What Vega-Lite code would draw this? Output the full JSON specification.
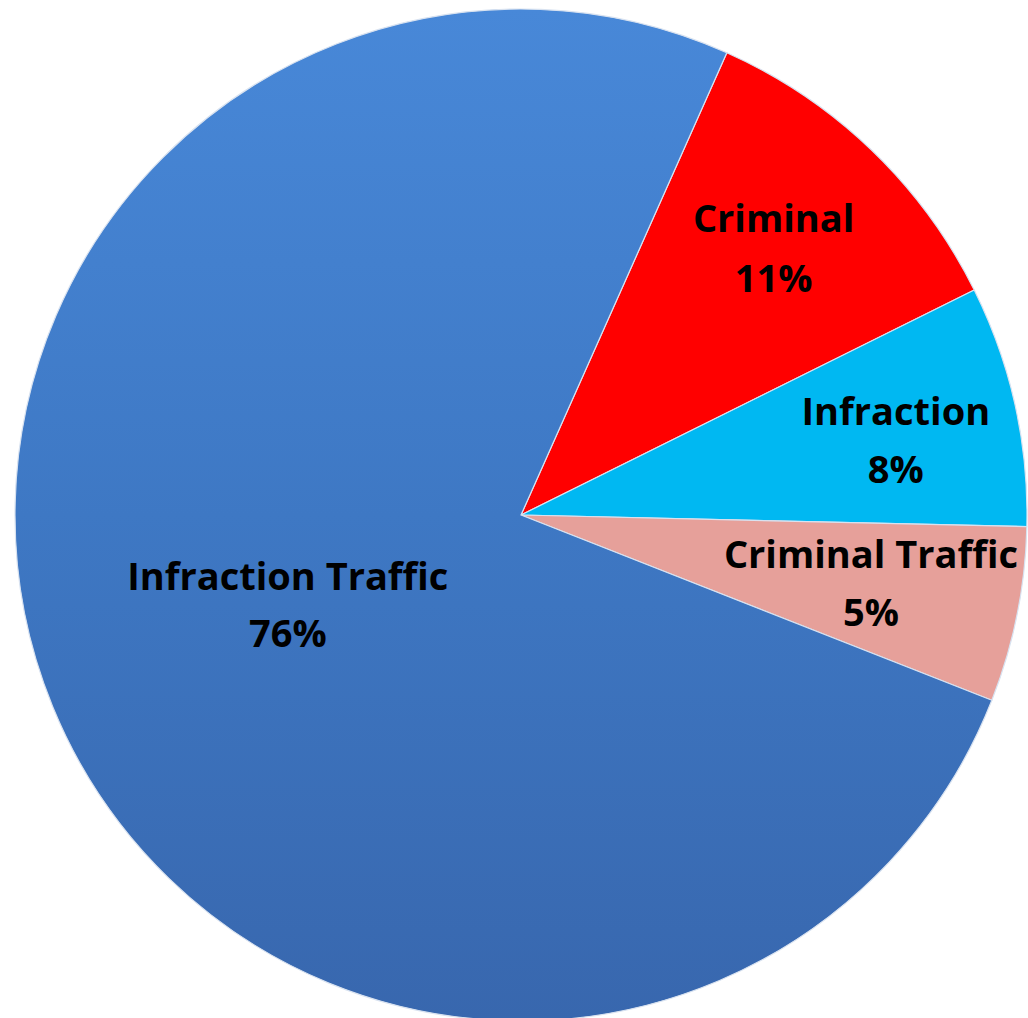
{
  "$schema": "https://vega.github.io/schema/vega-lite/v6.json",
  "width": 1042,
  "height": 1030,
  "padding": 0,
  "autosize": "none",
  "background": "white",
  "config": {"view": {"stroke": null}},
  "data": {"values": [
    {"cat": "Criminal", "value": 11.0, "ord": 1, "label": "Criminal\n11%"},
    {"cat": "Infraction", "value": 7.7, "ord": 2, "label": "Infraction\n8%"},
    {"cat": "Criminal Traffic", "value": 5.6, "ord": 3, "label": "Criminal Traffic\n5%"},
    {"cat": "Infraction Traffic", "value": 75.7, "ord": 4, "label": "Infraction Traffic\n76%"}
  ]},
  "encoding": {
    "theta": {"field": "value", "type": "quantitative", "stack": true, "scale": {"range": [0.4189, 6.7021]}},
    "order": {"field": "ord", "type": "quantitative", "sort": "ascending"}
  },
  "layer": [
    {
      "mark": {"type": "arc", "outerRadius": 506, "stroke": "#d8e2f0", "strokeWidth": 1.2},
      "encoding": {
        "color": {
          "condition": {"test": "datum.cat === 'Infraction Traffic'",
            "value": {"gradient": "linear", "x1": 0, "y1": 0, "x2": 0, "y2": 1,
              "stops": [{"offset": 0, "color": "#4888d8"}, {"offset": 0.5, "color": "#3e78c4"}, {"offset": 1, "color": "#3867ae"}]}},
          "field": "cat", "type": "nominal", "legend": null,
          "scale": {"domain": ["Criminal", "Infraction", "Criminal Traffic", "Infraction Traffic"],
                    "range": ["#ff0000", "#00b8f2", "#e6a09a", "#3d78c6"]}}
      }
    },
    {
      "mark": {"type": "text", "radius": 365, "dy": -31, "font": "Open Sans", "fontWeight": "bold", "fontSize": 38, "lineBreak": "\n", "lineHeight": 60, "fill": "black", "align": "center", "baseline": "middle"},
      "encoding": {
        "text": {"condition": {"test": "datum.cat !== 'Criminal'", "value": ""}, "field": "label"}
      }
    },
    {
      "mark": {"type": "text", "radius": 384, "dy": -18, "font": "Open Sans", "fontWeight": "bold", "fontSize": 38, "lineBreak": "\n", "lineHeight": 58, "fill": "black", "align": "center", "baseline": "middle"},
      "encoding": {
        "text": {"condition": {"test": "datum.cat !== 'Infraction'", "value": ""}, "field": "label"}
      }
    },
    {
      "mark": {"type": "text", "radius": 357, "dy": -29, "font": "Open Sans", "fontWeight": "bold", "fontSize": 38, "lineBreak": "\n", "lineHeight": 58, "fill": "black", "align": "center", "baseline": "middle"},
      "encoding": {
        "text": {"condition": {"test": "datum.cat !== 'Criminal Traffic'", "value": ""}, "field": "label"}
      }
    },
    {
      "mark": {"type": "text", "radius": 252, "dy": -31, "font": "Open Sans", "fontWeight": "bold", "fontSize": 38, "lineBreak": "\n", "lineHeight": 57, "fill": "black", "align": "center", "baseline": "middle"},
      "encoding": {
        "text": {"condition": {"test": "datum.cat !== 'Infraction Traffic'", "value": ""}, "field": "label"}
      }
    }
  ]
}
